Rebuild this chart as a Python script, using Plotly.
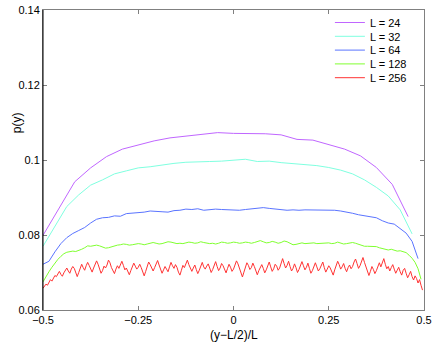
import plotly.graph_objects as go

# system sizes and the colours used for each curve
sizes = [24, 32, 64, 128, 256]
colors = ["#c066ff", "#7fffe0", "#5a74ff", "#80ff30", "#ff3333"]

p24 = [0.0799, 0.0870, 0.0942, 0.0979, 0.1009, 0.1029, 0.1040, 0.1051,
       0.1059, 0.1064, 0.1069, 0.1073, 0.1071, 0.1071, 0.1070, 0.1067,
       0.1055, 0.1053, 0.1042, 0.1029, 0.1011, 0.0980, 0.0935, 0.0849]

p32 = [0.0770, 0.0822, 0.0876, 0.0907, 0.0933, 0.0947, 0.0963, 0.0971,
       0.0979, 0.0982, 0.0987, 0.0991, 0.0994, 0.0996, 0.0996, 0.0997,
       0.0999, 0.1002, 0.0996, 0.0997, 0.0993, 0.0991, 0.0989, 0.0985,
       0.0980, 0.0973, 0.0963, 0.0947, 0.0927, 0.0904, 0.0867, 0.0803]

p64 = [0.0722, 0.0730, 0.0755, 0.0777, 0.0793, 0.0804, 0.0812, 0.0820,
       0.0832, 0.0842, 0.0846, 0.0847, 0.0851, 0.0850, 0.0857, 0.0858,
       0.0860, 0.0861, 0.0864, 0.0864, 0.0862, 0.0861, 0.0865, 0.0866,
       0.0869, 0.0868, 0.0870, 0.0866, 0.0867, 0.0869, 0.0868, 0.0867,
       0.0867, 0.0866, 0.0868, 0.0869, 0.0870, 0.0873, 0.0871, 0.0869,
       0.0868, 0.0866, 0.0867, 0.0866, 0.0867, 0.0867, 0.0866, 0.0868,
       0.0867, 0.0866, 0.0864, 0.0862, 0.0858, 0.0854, 0.0851, 0.0849,
       0.0846, 0.0838, 0.0832, 0.0829, 0.0818, 0.0805, 0.0783, 0.0737]

p128 = [0.0675, 0.0690, 0.0702, 0.0714, 0.0725, 0.0735, 0.0743, 0.0750,
        0.0754, 0.0756, 0.0757, 0.0756, 0.0758, 0.0762, 0.0766, 0.0771,
        0.0770, 0.0772, 0.0773, 0.0771, 0.0767, 0.0765, 0.0766, 0.0769,
        0.0772, 0.0773, 0.0774, 0.0776, 0.0775, 0.0773, 0.0774, 0.0776,
        0.0777, 0.0776, 0.0774, 0.0776, 0.0779, 0.0780, 0.0778, 0.0776,
        0.0777, 0.0779, 0.0782, 0.0781, 0.0778, 0.0777, 0.0778, 0.0777,
        0.0779, 0.0781, 0.0780, 0.0778, 0.0779, 0.0782, 0.0780, 0.0778,
        0.0777, 0.0778, 0.0776, 0.0778, 0.0781, 0.0780, 0.0778, 0.0779,
        0.0781, 0.0780, 0.0778, 0.0779, 0.0781, 0.0780, 0.0778, 0.0780,
        0.0783, 0.0785, 0.0782, 0.0779, 0.0780, 0.0783, 0.0781, 0.0778,
        0.0780, 0.0784, 0.0782, 0.0778, 0.0774, 0.0775, 0.0778, 0.0779,
        0.0777, 0.0778, 0.0780, 0.0779, 0.0777, 0.0778, 0.0779, 0.0780,
        0.0779, 0.0777, 0.0778, 0.0781, 0.0779, 0.0776, 0.0777, 0.0779,
        0.0780, 0.0778, 0.0775, 0.0772, 0.0770, 0.0770, 0.0769, 0.0770,
        0.0769, 0.0766, 0.0764, 0.0761, 0.0760, 0.0762, 0.0759, 0.0757,
        0.0758, 0.0756, 0.0753, 0.0746, 0.0738, 0.0727, 0.0710, 0.0682]

p256 = [0.0658, 0.0664, 0.0669, 0.0666, 0.0674, 0.0681, 0.0677, 0.0686,
        0.0692, 0.0689, 0.0697, 0.0703, 0.0695, 0.0690, 0.0699, 0.0706,
        0.0712, 0.0704, 0.0698, 0.0709, 0.0716, 0.0711, 0.0702, 0.0689,
        0.0700, 0.0714, 0.0722, 0.0713, 0.0706, 0.0718, 0.0727, 0.0719,
        0.0708, 0.0701, 0.0712, 0.0724, 0.0731, 0.0722, 0.0710, 0.0698,
        0.0705, 0.0717, 0.0712, 0.0720, 0.0733, 0.0726, 0.0713, 0.0704,
        0.0697, 0.0709, 0.0718, 0.0711, 0.0723, 0.0730, 0.0719, 0.0707,
        0.0712, 0.0702, 0.0694, 0.0705, 0.0716, 0.0725, 0.0717, 0.0709,
        0.0714, 0.0722, 0.0713, 0.0700, 0.0691, 0.0703, 0.0718, 0.0728,
        0.0721, 0.0710, 0.0704, 0.0713, 0.0725, 0.0732, 0.0720, 0.0706,
        0.0698, 0.0707, 0.0716, 0.0709, 0.0702, 0.0715, 0.0727, 0.0718,
        0.0711, 0.0721, 0.0714, 0.0701, 0.0693, 0.0706, 0.0719, 0.0713,
        0.0724, 0.0733, 0.0721, 0.0710, 0.0703, 0.0712, 0.0720, 0.0708,
        0.0697, 0.0706, 0.0718, 0.0727, 0.0715, 0.0709, 0.0717, 0.0723,
        0.0712, 0.0700, 0.0708, 0.0721, 0.0729, 0.0716, 0.0705, 0.0712,
        0.0724, 0.0718, 0.0707, 0.0699, 0.0711, 0.0722, 0.0714, 0.0703,
        0.0709, 0.0720, 0.0731, 0.0723, 0.0710, 0.0696, 0.0688, 0.0701,
        0.0715, 0.0726, 0.0719, 0.0708, 0.0713, 0.0725, 0.0716, 0.0702,
        0.0694, 0.0705, 0.0713, 0.0721, 0.0711, 0.0699, 0.0707, 0.0719,
        0.0728, 0.0715, 0.0703, 0.0710, 0.0722, 0.0717, 0.0706, 0.0712,
        0.0726, 0.0737, 0.0724, 0.0712, 0.0719, 0.0730, 0.0716, 0.0704,
        0.0711, 0.0723, 0.0713, 0.0700, 0.0708, 0.0720, 0.0729, 0.0718,
        0.0707, 0.0714, 0.0725, 0.0711, 0.0698, 0.0705, 0.0717, 0.0726,
        0.0715, 0.0704, 0.0710, 0.0721, 0.0728, 0.0713, 0.0701, 0.0709,
        0.0718, 0.0712, 0.0700, 0.0693, 0.0707, 0.0719, 0.0730, 0.0721,
        0.0709, 0.0715, 0.0724, 0.0711, 0.0702, 0.0713, 0.0720, 0.0710,
        0.0716, 0.0728, 0.0736, 0.0724, 0.0711, 0.0718, 0.0731, 0.0740,
        0.0727, 0.0713, 0.0704, 0.0692, 0.0703, 0.0716, 0.0708, 0.0697,
        0.0705, 0.0718, 0.0726, 0.0715, 0.0728, 0.0737, 0.0722, 0.0710,
        0.0716, 0.0704, 0.0713, 0.0721, 0.0709, 0.0698, 0.0706, 0.0714,
        0.0702, 0.0693, 0.0706, 0.0711, 0.0698, 0.0686, 0.0694, 0.0703,
        0.0689, 0.0680, 0.0691, 0.0684, 0.0672, 0.0681, 0.0666, 0.0653]

curves = [p24, p32, p64, p128, p256]

# legend rows sit about 14 px apart, so each entry gets its own legend box
legend_ids = ["legend", "legend2", "legend3", "legend4", "legend5"]

fig = go.Figure()
for L, p, c, lg in zip(sizes, curves, colors, legend_ids):
    xs = [(i - L / 2) / L for i in range(L)]
    fig.add_trace(go.Scatter(x=xs, y=p, mode="lines", name="L = %d" % L,
                             line=dict(color=c, width=1), legend=lg))

axis_style = dict(showgrid=False, zeroline=False, showline=True,
                  linecolor="#808080", linewidth=1, mirror="ticks",
                  ticks="inside", ticklen=4, tickcolor="#808080",
                  tickfont=dict(size=11, color="black"))

legend_style = dict(x=0.753, xanchor="left", yanchor="middle",
                    bgcolor="rgba(0,0,0,0)", font=dict(size=11),
                    itemwidth=30)

fig.update_layout(
    width=436, height=342,
    margin=dict(l=43, r=12, t=10, b=32, autoexpand=False),
    paper_bgcolor="white", plot_bgcolor="white",
    font=dict(family="Liberation Sans, Arial, sans-serif", size=11, color="black"),
    xaxis=dict(range=[-0.5, 0.5], tick0=-0.5, dtick=0.25, **axis_style),
    yaxis=dict(range=[0.06, 0.14], tick0=0.06, dtick=0.02, **axis_style),
    showlegend=True,
)
for k, lg in enumerate(legend_ids):
    row = 22.5 + 13.8 * k
    fig.update_layout({lg: dict(y=1 - (row - 10) / 300, **legend_style)})

# axis titles placed where the original has them
fig.add_annotation(text="(y\u2212L/2)/L", xref="paper", yref="paper",
                   x=0.5, y=-0.083, xanchor="center", yanchor="middle",
                   showarrow=False, font=dict(size=12))
fig.add_annotation(text="p(y)", xref="paper", yref="paper",
                   x=-0.068, y=0.623, xanchor="center", yanchor="middle",
                   textangle=-90, showarrow=False, font=dict(size=12))

# black left spine as in the original
fig.add_shape(type="line", xref="paper", yref="paper", x0=0, x1=0, y0=0, y1=1,
              line=dict(color="black", width=1))

fig.write_html("out.html", config={"displayModeBar": False},
               post_script="document.body.style.margin='0';")
